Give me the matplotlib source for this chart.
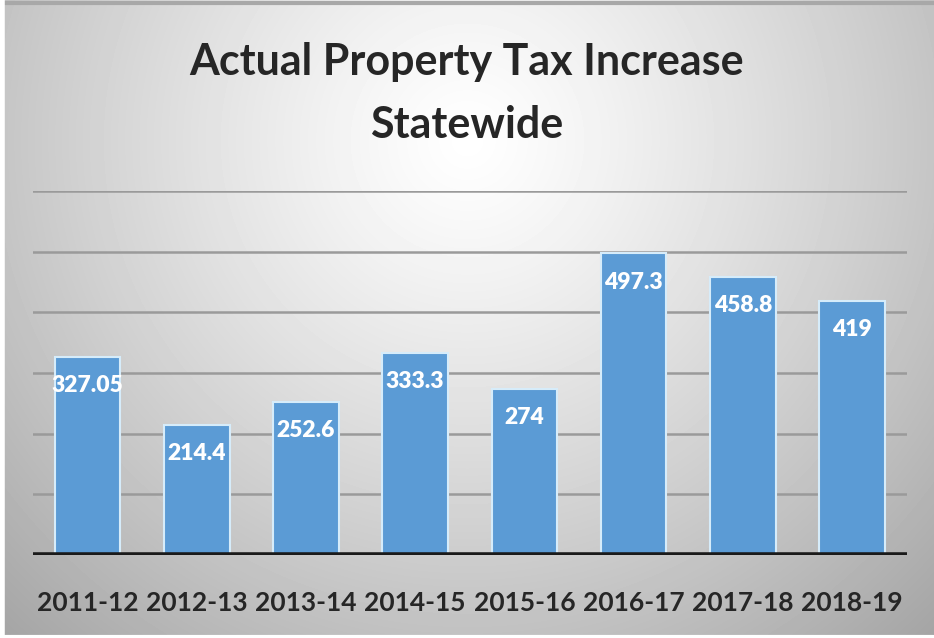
import numpy as np
import matplotlib

matplotlib.use("Agg")
import matplotlib.pyplot as plt

years = ["2011-12", "2012-13", "2013-14", "2014-15", "2015-16", "2016-17", "2017-18", "2018-19"]
increase = [327.05, 214.4, 252.6, 333.3, 274, 497.3, 458.8, 419]
labels = ["327.05", "214.4", "252.6", "333.3", "274", "497.3", "458.8", "419"]
grid_values = [100, 200, 300, 400, 500, 600]

plt.rcParams["font.family"] = ["Lato", "DejaVu Sans"]

fig = plt.figure(figsize=(9.34, 6.38), dpi=100)

# slide-style background: bright near the title, greying out to the edges
bg = fig.add_axes([0, 0, 1, 1], zorder=-10)
yy, xx = np.mgrid[0:638, 0:934]
r = np.sqrt(((xx - 467) / 540.0) ** 2 + ((yy - 140) / 540.0) ** 2)
shade = np.clip(1.0 - 0.27 * r ** 1.2, 0, 1)
bg.imshow(shade, cmap="gray", vmin=0, vmax=1, aspect="auto", interpolation="bilinear")
bg.axhline(2, color="#a8a8a8", linewidth=3)
bg.axvline(1.5, color="white", linewidth=4)
bg.axhline(636.5, color="white", linewidth=3)
bg.set_axis_off()

ax = fig.add_axes([33 / 934, 1 - 555 / 638, (906.6 - 33) / 934, (555 - 191) / 638])
ax.patch.set_visible(False)
x = np.arange(len(years))
bars = ax.bar(x, increase, width=0.6, color="#5b9bd5", edgecolor="#d6ecfa", linewidth=1.5, zorder=3)

for v in grid_values:
    ax.axhline(v, color="#9a9a9a", linewidth=1.8, zorder=1)
ax.axhline(0, color="#1a1a1a", linewidth=4, zorder=4)

for b, txt in zip(bars, labels):
    ax.annotate(txt, (b.get_x() + b.get_width() / 2, b.get_height()), xytext=(0, -29),
                textcoords="offset pixels", ha="center", va="center",
                color="white", fontsize=16.5, fontweight="heavy", zorder=5)

ax.set_xlim(-0.5, len(years) - 0.5)
ax.set_ylim(0, 600)
ax.set_yticks([])
ax.set_xticks(x)
ax.set_xticklabels(years, fontsize=19, fontweight="bold", color="#262626")
ax.tick_params(axis="x", length=0, pad=26)
for s in ax.spines.values():
    s.set_visible(False)

fig.text(0.5, 1 - 62 / 638, "Actual Property Tax Increase", ha="center", va="center",
         fontsize=31, fontweight="bold", color="#262626")
fig.text(0.5, 1 - 125 / 638, "Statewide", ha="center", va="center",
         fontsize=31, fontweight="bold", color="#262626")

fig.savefig("out.png", dpi=100)
plt.close(fig)
